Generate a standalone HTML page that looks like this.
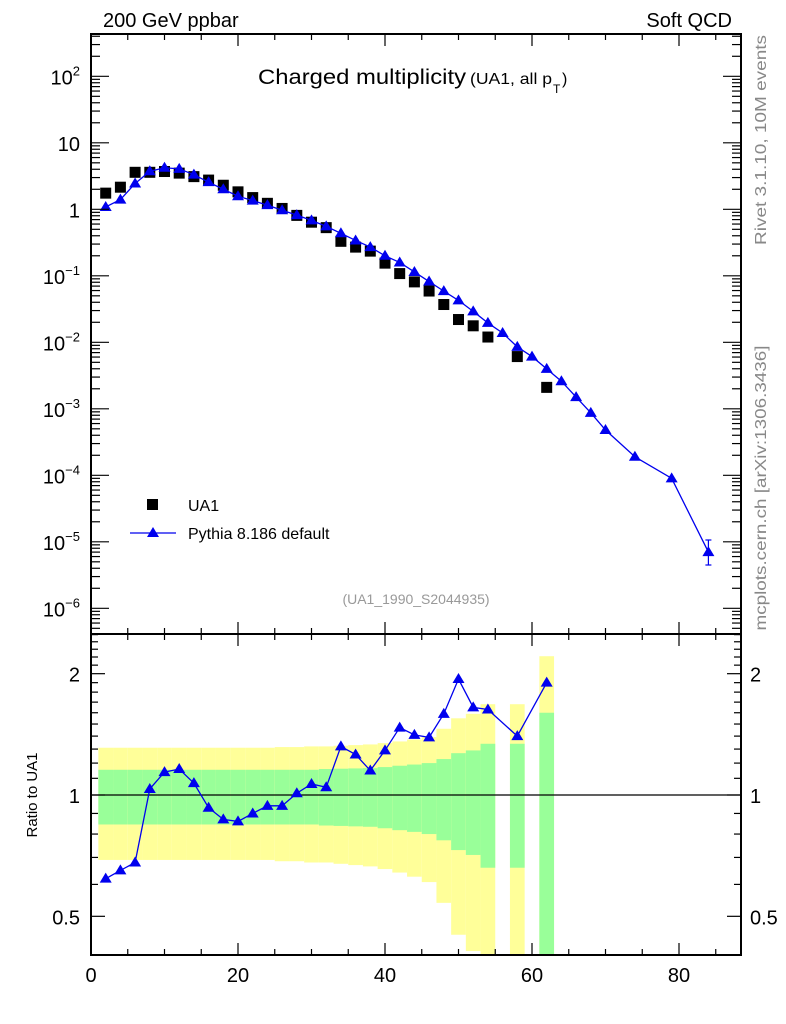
<!DOCTYPE html>
<html><head><meta charset="utf-8"><style>
body{margin:0;background:#fff}
svg{display:block;font-family:"Liberation Sans",sans-serif}
</style></head><body>
<svg id="c" width="786" height="1024"></svg>
<script>
// ---- data ----
const ua1X = [2,4,6,8,10,12,14,16,18,20,22,24,26,28,30,32,34,36,38,40,42,44,46,48,50,52,54,58,62];
const ua1Y = [1.75,2.15,3.6,3.6,3.7,3.5,3.1,2.75,2.3,1.83,1.5,1.23,1.03,0.81,0.64,0.53,0.33,0.27,0.235,0.155,0.108,0.081,0.059,0.037,0.022,0.0177,0.012,0.0061,0.0021];
const ratioY = [0.62,0.65,0.68,1.035,1.14,1.16,1.07,0.93,0.87,0.86,0.90,0.94,0.94,1.01,1.065,1.045,1.32,1.26,1.15,1.29,1.47,1.41,1.39,1.59,1.94,1.65,1.63,1.40,1.90];
const totErr = [0.31,0.31,0.31,0.31,0.31,0.31,0.31,0.31,0.31,0.31,0.31,0.31,0.315,0.315,0.32,0.32,0.325,0.33,0.335,0.345,0.358,0.373,0.392,0.46,0.55,0.59,0.68,0.68,1.21];
const statErr = [0.155,0.155,0.155,0.155,0.155,0.155,0.155,0.155,0.155,0.155,0.155,0.155,0.155,0.155,0.155,0.16,0.162,0.164,0.166,0.173,0.182,0.19,0.2,0.228,0.27,0.29,0.34,0.34,0.6];
const pyExtraX = [56,60,64,66,68,70,74,79,84];
const pyExtraY = [0.0138,0.0061,0.0026,0.0015,0.00087,0.00048,0.00019,0.00009,0.000007];
const xTicks = [0,20,40,60,80];

// ---- geometry ----
const L=91,R=741,T=34,MB=634,RB=955;
const sx=v=>L+v*7.35;
const sy=v=>209.3-66.5*Math.log10(v);
const sr=v=>795-403*Math.log10(v);
const NS='http://www.w3.org/2000/svg';
const svg=document.getElementById('c');
function mk(tag,attrs,parent){const e=document.createElementNS(NS,tag);for(const k in attrs)e.setAttribute(k,attrs[k]);(parent||svg).appendChild(e);return e;}

const pyX=[],pyY=[];
ua1X.forEach((x,i)=>{pyX.push(x);pyY.push(ua1Y[i]*ratioY[i]);});
pyExtraX.forEach((x,i)=>{pyX.push(x);pyY.push(pyExtraY[i]);});
const ord=pyX.map((x,i)=>i).sort((a,b)=>pyX[a]-pyX[b]);

const clip=mk('clipPath',{id:'rc'});mk('rect',{x:L,y:T,width:R-L,height:RB-T},clip);
const bands=mk('g',{'clip-path':'url(#rc)'});


ua1X.forEach((x,i)=>{
  const lo=Math.max(1-totErr[i],0.3);
  const y=mk('rect',{x:sx(x-1),y:sr(1+totErr[i]),width:sx(x+1)-sx(x-1),height:sr(lo)-sr(1+totErr[i]),fill:'#ffff99'},bands);
  
  
  const g=mk('rect',{x:sx(x-1),y:sr(1+statErr[i]),width:sx(x+1)-sx(x-1),height:sr(1-statErr[i])-sr(1+statErr[i]),fill:'#99ff99'},bands);
  
  
});
mk('line',{x1:L,x2:R,y1:sr(1),y2:sr(1),stroke:'#000','stroke-width':1.2});

function tri(cx,cy,parent,name){
  const p=mk('polygon',{points:`${cx},${cy-6} ${cx-6},${cy+4} ${cx+6},${cy+4}`,fill:'#0000ee'},parent);
  
  
}
const rg=mk('g',{});


mk('polyline',{points:ua1X.map((x,i)=>sx(x)+','+sr(ratioY[i])).join(' '),fill:'none',stroke:'#0000ee','stroke-width':1.3},rg);
ua1X.forEach((x,i)=>tri(sx(x),sr(ratioY[i]),rg,'ratio-point'));

const ug=mk('g',{});


ua1X.forEach((x,i)=>{
  const r=mk('rect',{x:sx(x)-5.5,y:sy(ua1Y[i])-5.5,width:11,height:11,fill:'#000'},ug);
  
  
});
const pg=mk('g',{});


mk('polyline',{points:ord.map(i=>sx(pyX[i])+','+sy(pyY[i])).join(' '),fill:'none',stroke:'#0000ee','stroke-width':1.3},pg);
ord.forEach(i=>tri(sx(pyX[i]),sy(pyY[i]),pg,'pythia-point'));
mk('line',{x1:sx(84),x2:sx(84),y1:540,y2:565,stroke:'#0000ee','stroke-width':1.2},pg);
mk('line',{x1:sx(84)-3,x2:sx(84)+3,y1:540,y2:540,stroke:'#0000ee','stroke-width':1.2},pg);
mk('line',{x1:sx(84)-3,x2:sx(84)+3,y1:565,y2:565,stroke:'#0000ee','stroke-width':1.2},pg);

const ax=mk('g',{stroke:'#000','stroke-width':2,fill:'none'});


mk('rect',{x:L,y:T,width:R-L,height:MB-T},ax);
mk('rect',{x:L,y:MB,width:R-L,height:RB-MB},ax);
const tk=mk('g',{stroke:'#000','stroke-width':1.2});
for(let v=0;v<=88;v+=5){
  const len=v%20===0?12:6,x=sx(v);
  [[T,1],[MB,-1],[MB,1],[RB,-1]].forEach(([y,d])=>mk('line',{x1:x,x2:x,y1:y,y2:y+d*len},tk));
}
for(let e=-7;e<=2;e++){for(let m=1;m<=9;m++){const v=m*Math.pow(10,e),y=sy(v);if(y<T||y>MB)continue;const len=m===1?18:9;
  mk('line',{x1:L,x2:L+len,y1:y,y2:y},tk);mk('line',{x1:R,x2:R-len,y1:y,y2:y},tk);}}
for(let v=0.4;v<=2.6;v+=0.1){const y=sr(v);if(y<MB||y>RB)continue;const maj=Math.abs(v-0.5)<1e-6||Math.abs(v-1)<1e-6||Math.abs(v-2)<1e-6;const len=maj?14:7;
  mk('line',{x1:L,x2:L+len,y1:y,y2:y},tk);mk('line',{x1:R,x2:R-len,y1:y,y2:y},tk);}

function txt(s,x,y,attrs,name){const t=mk('text',Object.assign({x,y},attrs||{}));t.textContent=s;return t;}
xTicks.forEach(v=>txt(String(v),sx(v),982,{'font-size':20,'text-anchor':'middle'},'x-tick-label'));
const yl=[[2,'10','2'],[1,'10',''],[0,'1',''],[-1,'10','−1'],[-2,'10','−2'],[-3,'10','−3'],[-4,'10','−4'],[-5,'10','−5'],[-6,'10','−6']];
yl.forEach(([e,b,s])=>{
  const t=txt('',80,sy(Math.pow(10,e))+8,{'font-size':20,'text-anchor':'end'},'y-tick-label');
  if(e===1){t.textContent='10';}else if(e===0){t.textContent='1';}
  else{const a=document.createElementNS(NS,'tspan');a.textContent=b;t.appendChild(a);const c=document.createElementNS(NS,'tspan');c.setAttribute('font-size','13');c.setAttribute('dy','-9');c.textContent=s;t.appendChild(c);}
});
[['2',2],['1',1],['0.5',0.5]].forEach(([s,v])=>{txt(s,80,sr(v)+8,{'font-size':20,'text-anchor':'end'},'ratio-tick-label');txt(s,750,sr(v)+8,{'font-size':20},'ratio-tick-label-right');});
txt('200 GeV ppbar',103,27,{'font-size':20},'energy-label');
txt('Soft QCD',732,27,{'font-size':20,'text-anchor':'end'},'category-label');
txt('Charged multiplicity',258,84,{'font-size':21,textLength:208,lengthAdjust:'spacingAndGlyphs'},'plot-title');
txt('(UA1, all p',470,84,{'font-size':16,textLength:82,lengthAdjust:'spacingAndGlyphs'},'plot-subtitle');
txt('T',553,93,{'font-size':12},'plot-subtitle-sub');
txt(')',562,84,{'font-size':16},'plot-subtitle-end');
txt('(UA1_1990_S2044935)',416,604,{'font-size':14,fill:'#999','text-anchor':'middle'},'analysis-id');
txt('Ratio to UA1',37,795,{'font-size':15,'text-anchor':'middle',transform:'rotate(-90 37 795)'},'ratio-axis-title');
txt('Rivet 3.1.10,  10M events',0,0,{'font-size':16,fill:'#888','text-anchor':'middle',textLength:210,lengthAdjust:'spacingAndGlyphs',transform:'translate(766 140) rotate(-90)'},'rivet-label');
txt('mcplots.cern.ch [arXiv:1306.3436]',0,0,{'font-size':16,fill:'#888','text-anchor':'middle',textLength:285,lengthAdjust:'spacingAndGlyphs',transform:'translate(766 488) rotate(-90)'},'mcplots-label');
const lg=mk('g',{});


mk('rect',{x:147,y:499,width:11,height:11,fill:'#000'},lg);
txt('UA1',188,511,{'font-size':16},'legend-ua1');
mk('line',{x1:130,x2:176,y1:533,y2:533,stroke:'#0000ee','stroke-width':1.3},lg);
tri(153,533,lg,'legend-pythia-marker');
txt('Pythia 8.186 default',188,539,{'font-size':16},'legend-pythia');
</script>
</body></html>
